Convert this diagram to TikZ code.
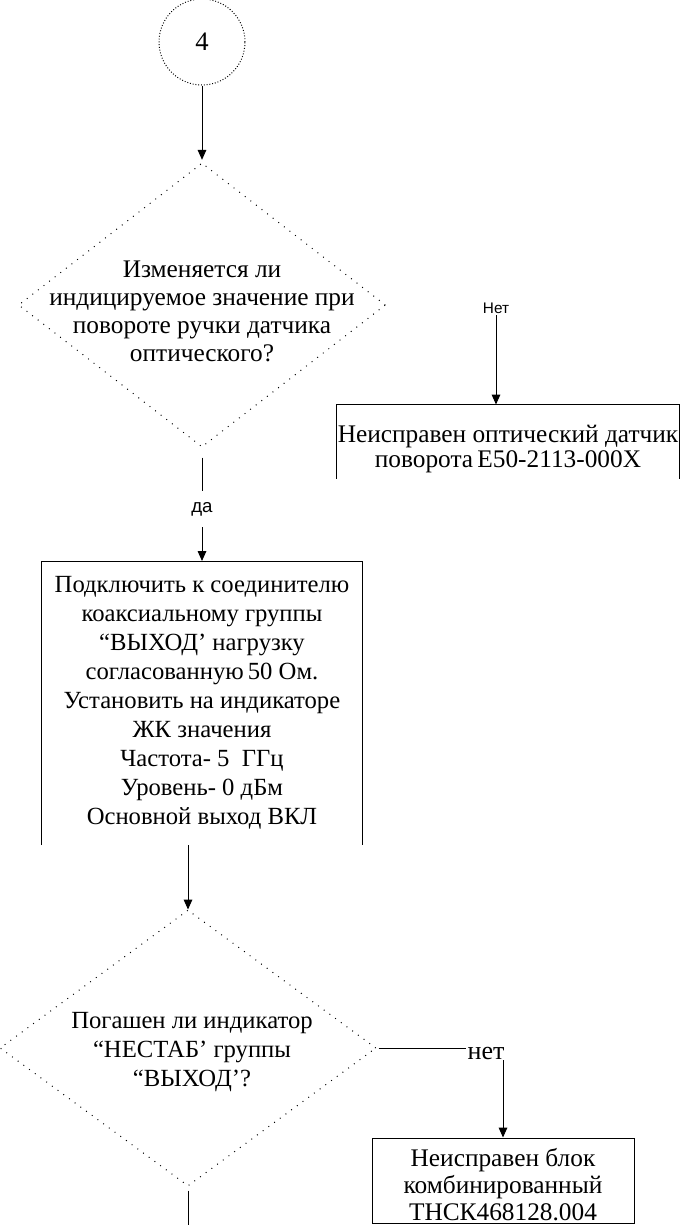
\documentclass[tikz,border=0pt]{standalone}
\usepackage{fontspec}
\setmainfont{Liberation Serif}
\newfontfamily\labelsans{Liberation Sans}
\usetikzlibrary{shapes.geometric,arrows.meta}

\tikzset{every picture/.style={line width=0.75pt}}
\tikzset{
  connector/.style={circle, draw, dash pattern=on 0.7pt off 1.4pt, minimum size=64.5pt, font=\fontsize{20}{24}\selectfont},
  decision/.style={diamond, draw, dash pattern=on 0.7pt off 4.6pt, inner sep=0pt},
  question/.style={align=center, inner sep=0pt, font=\fontsize{19}{21}\selectfont},
  action/.style={rectangle, align=center, inner sep=0pt, font=\fontsize{18.5}{21.75}\selectfont},
  answer/.style={inner sep=0.5pt, font=\fontsize{19.5}{21}\selectfont},
  flow/.style={-{Triangle[length=7.5pt,width=6.5pt]}}
}

\begin{document}
\begin{tikzpicture}[x=0.75pt,y=0.75pt,yscale=-1,xscale=1]
\useasboundingbox (0,0) rectangle (684,1225);

% Connector
\node [connector] (start) at (202,42) {4};

%Shape: Diamond [first question]
\node [decision, minimum width=275.25pt, minimum height=213pt] (askknob) at (202,305) {};
% Text Node
\node [question] (askknobtext) at ([yshift=4.5pt]askknob.center) {Изменяется ли\\индицируемое значение при\\повороте ручки датчика\\оптического?};

% Text Node
\node [inner sep=1pt, font=\labelsans\fontsize{11.5}{13}\selectfont] (no1) at (496,308) {Нет};

%Shape: Rectangle [open at the bottom]
\node [action, font=\fontsize{19}{18.75}\selectfont, minimum width=256.5pt, minimum height=66pt] (faultsensor) at (508,449) {Неисправен оптический датчик\\поворота\,E50-2113-000X};
\draw ([yshift=-11.25pt]faultsensor.south west) |- (faultsensor.north east) -- ([yshift=-11.25pt]faultsensor.south east);

% Text Node
\node [inner sep=8pt, font=\labelsans\fontsize{14}{16}\selectfont] (yes1) at (202,509) {да};

%Shape: Rectangle [open at the bottom]
\node [action, minimum width=240pt, minimum height=212.25pt] (setload) at (202,703) {Подключить к соединителю\\коаксиальному группы\\“ВЫХОД’ нагрузку\\согласованную\,50 Ом.\\Установить на индикаторе\\ЖК значения\\Частота- 5~~ГГц\\Уровень- 0 дБм\\Основной выход ВКЛ};
\draw (setload.south west) |- (setload.north east) -- (setload.south east);

%Shape: Diamond [second question]
\node [decision, minimum width=282pt, minimum height=207pt] (askunstab) at (188,1048) {};
% Text Node
\node [question, font=\fontsize{18.5}{21.75}\selectfont] (askunstabtext) at ([xshift=3pt,yshift=3pt]askunstab.center) {Погашен ли индикатор\\“НЕСТАБ’ группы\\“ВЫХОД’?};

% Text Node
\node [answer] (no2) at (486,1053) {нет};

%Shape: Rectangle
\node [action, draw, font=\fontsize{19}{20.25}\selectfont, minimum width=196.5pt, minimum height=63.75pt] (faultblock) at (503,1180.5) {};
% Text Node
\node [action, font=\fontsize{19}{20.25}\selectfont] (faultblocktext) at ([yshift=3pt]faultblock.center) {Неисправен блок\\комбинированный\\ТНСК468128.004};

\coordinate (exit) at (188,1232);

%Straight Lines
\draw [flow, shorten >=2pt] (start) -- (askknob);
\draw [flow] (no1) -- (no1.south |- faultsensor.north);
\draw [shorten <=7.5pt] (askknob) -- (yes1);
\draw [flow] (yes1) -- (setload);
\draw [flow] (setload.south -| askunstab.north) -- (askunstab.north);
\draw [shorten <=1.5pt] (askunstab.east) -- (askunstab.east -| no2.west);
\draw [flow] (no2.south -| faultblock.north) -- (faultblock.north);
\draw [shorten <=3pt] (askunstab.south) -- (exit);

\end{tikzpicture}
\end{document}
